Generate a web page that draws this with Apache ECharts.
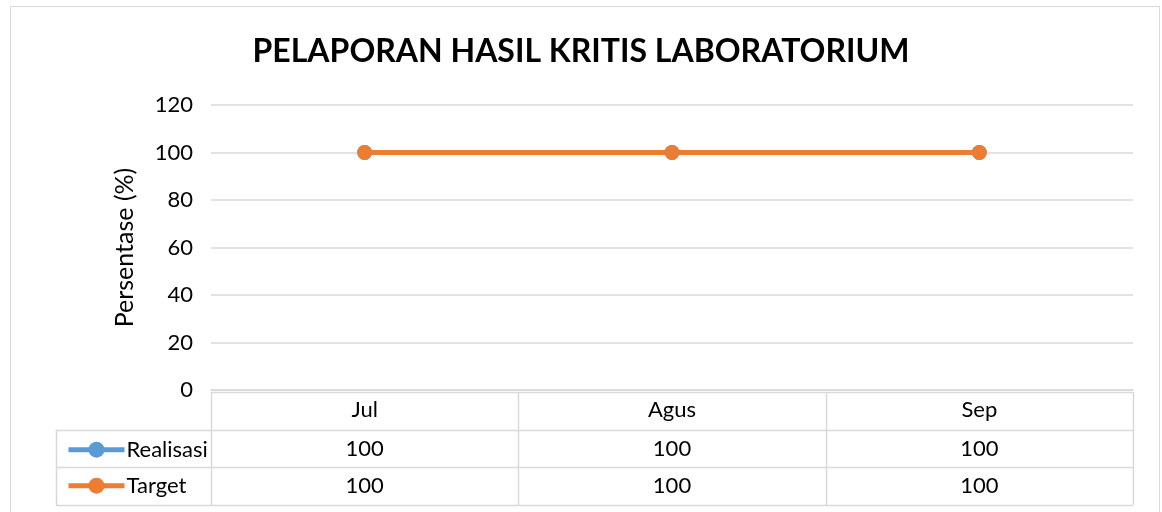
<!DOCTYPE html>
<html>
<head>
<meta charset="utf-8">
<script src="https://cdn.jsdelivr.net/npm/echarts@6/dist/echarts.min.js"></script>
<style>
  html, body { margin: 0; padding: 0; background: #fff; }
  #chart { width: 1162px; height: 512px; }
</style>
</head>
<body>
<div id="chart"></div>
<script>
var months = ['Jul', 'Agus', 'Sep'];
var realisasi = [100, 100, 100];
var target = [100, 100, 100];
var seriesNames = ['Realisasi', 'Target'];
var seriesColors = ['#5b9bd5', '#ed7d31'];

var FONT = 'Lato';
var gridLeft = 211, gridRight = 1133, gridTop = 105, gridBottom = 390;
var rowH = 37.7;
var tableLeft = 56;
var lineColor = '#d9d9d9';

var chart = echarts.init(document.getElementById('chart'));

// data table built from the arrays
var graphics = [];
graphics.push({
  type: 'rect',
  shape: { x: 10.5, y: 6.5, width: 1149, height: 530 },
  style: { fill: 'none', stroke: lineColor, lineWidth: 1 },
  silent: true
});
var colW = (gridRight - gridLeft) / months.length;
var rows = [realisasi, target];
var tableBottom = gridBottom + 2 + rowH * 3;
// horizontal lines
for (var r = 0; r <= 3; r++) {
  var y = Math.round(gridBottom + 2 + rowH * r) + 0.5;
  graphics.push({
    type: 'line',
    shape: { x1: r === 0 ? gridLeft : tableLeft, y1: y, x2: gridRight, y2: y },
    style: { stroke: lineColor, lineWidth: 1.5 }, silent: true
  });
}
// vertical lines
for (var c = 0; c <= months.length; c++) {
  var x = Math.round(gridLeft + colW * c) + 0.5;
  graphics.push({
    type: 'line',
    shape: { x1: x, y1: gridBottom + 2, x2: x, y2: tableBottom },
    style: { stroke: lineColor, lineWidth: 1.5 }, silent: true
  });
}
graphics.push({
  type: 'line',
  shape: { x1: tableLeft + 0.5, y1: gridBottom + 2 + rowH, x2: tableLeft + 0.5, y2: tableBottom },
  style: { stroke: lineColor, lineWidth: 1.5 }, silent: true
});
rows.forEach(function (vals, ri) {
  vals.forEach(function (v, ci) {
    graphics.push({
      type: 'text',
      x: gridLeft + colW * (ci + 0.5),
      y: gridBottom + 2 + rowH * (ri + 1.5),
      style: {
        text: String(v), fill: '#000', font: '22px ' + FONT,
        align: 'center', verticalAlign: 'middle'
      },
      silent: true
    });
  });
});

var option = {
  animation: false,
  title: {
    text: 'PELAPORAN HASIL KRITIS LABORATORIUM',
    left: 'center',
    top: 31,
    textStyle: { fontFamily: FONT, fontSize: 32, fontWeight: 'bold', color: '#000' }
  },
  legend: {
    orient: 'vertical',
    left: 61,
    top: gridBottom + 2 + rowH + 4,
    itemWidth: 56,
    itemHeight: 20,
    itemGap: 14,
    data: seriesNames,
    lineStyle: { width: 5 },
    textStyle: { fontFamily: FONT, fontSize: 22, color: '#000', padding: [0, 0, 0, -3] }
  },
  grid: {
    left: gridLeft,
    right: 1162 - gridRight,
    top: gridTop,
    bottom: 512 - gridBottom,
    containLabel: false
  },
  xAxis: {
    type: 'category',
    data: months,
    boundaryGap: true,
    axisLine: { show: true, lineStyle: { color: lineColor, width: 1.5 } },
    axisTick: { show: false },
    axisLabel: { fontFamily: FONT, fontSize: 22, color: '#000', margin: 9 }
  },
  yAxis: {
    type: 'value',
    min: 0,
    max: 120,
    interval: 20,
    name: 'Persentase (%)',
    nameLocation: 'middle',
    nameGap: 74,
    nameTextStyle: { fontFamily: FONT, fontSize: 25, color: '#000' },
    axisLine: { show: false },
    axisTick: { show: false },
    axisLabel: { fontFamily: FONT, fontSize: 22, color: '#000', margin: 18 },
    splitLine: { lineStyle: { color: lineColor, width: 1.5 } }
  },
  series: [
    {
      name: seriesNames[0],
      type: 'line',
      data: realisasi,
      color: seriesColors[0],
      symbol: 'circle',
      symbolSize: 15,
      lineStyle: { width: 5 }
    },
    {
      name: seriesNames[1],
      type: 'line',
      data: target,
      color: seriesColors[1],
      symbol: 'circle',
      symbolSize: 15,
      lineStyle: { width: 5 }
    }
  ],
  graphic: graphics
};
chart.setOption(option);
</script>
</body>
</html>
